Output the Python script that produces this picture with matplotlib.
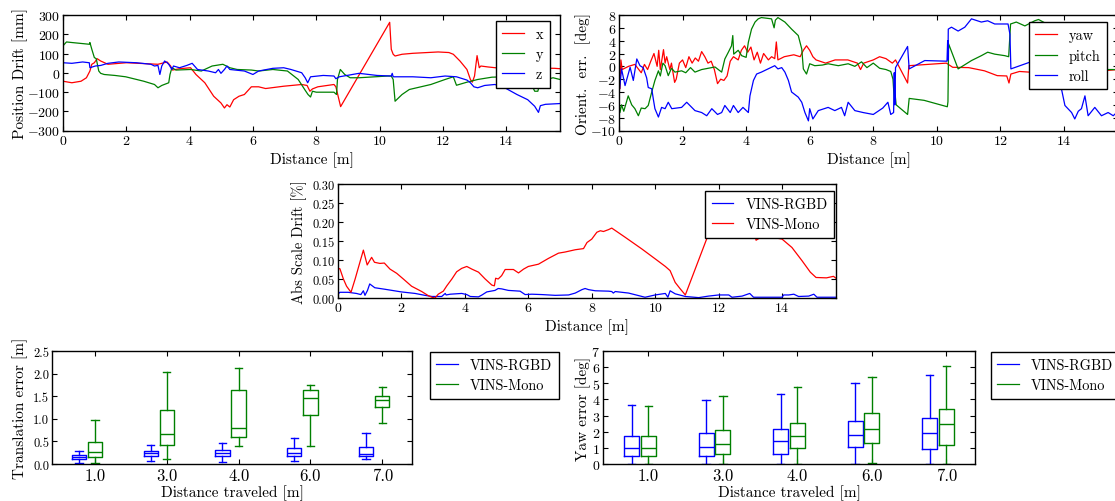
import numpy as np
import matplotlib.pyplot as plt
from matplotlib.ticker import StrMethodFormatter, MultipleLocator

plt.rcParams.update({
    "font.family": "cmr10",
    "mathtext.fontset": "cm",
    "axes.formatter.use_mathtext": True,
    "axes.unicode_minus": False,
    "xtick.direction": "in",
    "ytick.direction": "in",
    "xtick.top": True,
    "ytick.right": True,
    "xtick.major.size": 3.5,
    "ytick.major.size": 3.5,
    "xtick.major.pad": 2.5,
    "ytick.major.pad": 2.0,
    "axes.linewidth": 1.0,
    "legend.fancybox": False,
    "legend.edgecolor": "black",
    "legend.framealpha": 1.0,
    "lines.linewidth": 0.9,
})

RED, GREEN, BLUE = "#ff0000", "#008000", "#0000ff"

# ---- position drift [mm] vs distance [m]
pos_x = [(0, -44), (0.28, -52), (0.57, -44), (0.74, -26), (0.85, 9), (0.91, 44), (0.99, 52),
         (1.08, 73), (1.19, 61), (1.42, 44), (2.0, 52), (3.0, 44), (3.29, 56), (3.4, 35),
         (3.46, 14), (3.68, 21), (4.03, 26), (4.2, -9), (4.48, -52), (4.76, -122), (4.99, -157),
         (5.1, -183), (5.18, -166), (5.27, -178), (5.39, -140), (5.56, -122), (5.73, -113),
         (5.95, -73), (6.18, -73), (6.4, -82), (6.97, -70), (7.54, -61), (7.71, -66), (7.8, -96),
         (7.88, -84), (8.05, -73), (8.56, -61), (8.62, -73), (8.77, -176), (10.32, 262),
         (10.37, 122), (10.43, 96), (10.49, 87), (10.71, 96), (11.05, 101), (11.85, 108),
         (12.19, 105), (12.33, 96), (12.54, 61), (12.76, 17), (12.87, -35), (12.93, -49),
         (13.0, -17), (13.08, 89), (13.15, 26), (13.2, 35), (13.43, 30), (13.66, 26),
         (14.5, 25), (15.53, 23), (15.7, 21)]
pos_y = [(0, 140), (0.11, 160), (0.28, 157), (0.83, 148), (0.85, 157), (0.91, 122), (0.99, 79),
         (1.05, 73), (1.13, 9), (1.19, -3), (1.3, -9), (1.64, -14), (1.98, -21), (2.55, -44),
         (2.89, -61), (3.0, -78), (3.12, -66), (3.34, -52), (3.38, -9), (3.44, 26), (3.57, 14),
         (4.03, 17), (4.37, 9), (4.71, 35), (5.05, 44), (5.27, 26), (5.5, 17), (5.95, 14),
         (6.18, 9), (6.63, 17), (7.09, 9), (7.43, -35), (7.65, -91), (7.74, -113), (7.82, -126),
         (7.88, -96), (8.0, -101), (8.56, -101), (8.64, -113), (8.67, -35), (8.76, 17),
         (8.9, -9), (9.07, -26), (9.35, -26), (10.26, -17), (10.37, -17), (10.43, -35),
         (10.49, -148), (10.71, -113), (10.94, -87), (11.62, -61), (12.07, -35), (12.33, -21),
         (12.43, -65), (12.76, -49), (13.1, -35), (13.55, -23), (14.2, -20), (14.8, -60),
         (14.9, -96), (15.0, -96), (15.08, -44), (15.48, -26), (15.7, -35)]
pos_z = [(0, 52), (0.28, 49), (0.62, 56), (0.83, 52), (0.85, 26), (1.02, 35), (1.19, 38),
         (1.42, 49), (1.76, 56), (2.32, 52), (2.78, 44), (2.89, 35), (3.0, 38), (3.06, -9),
         (3.12, 35), (3.21, 61), (3.29, 52), (3.34, 44), (3.44, 17), (3.49, 35), (3.68, 26),
         (3.91, 38), (4.08, 49), (4.25, 17), (4.59, 9), (4.82, 0), (4.91, 17), (4.99, -3),
         (5.1, 17), (5.18, 35), (5.27, 17), (5.73, 9), (6.0, -9), (6.18, 9), (6.63, 23),
         (6.97, 26), (7.2, 17), (7.54, 0), (7.65, -26), (7.73, -52), (7.82, -21), (8.22, -14),
         (8.56, -17), (8.62, -31), (8.73, -21), (9.35, -3), (9.92, -14), (10.37, -17),
         (10.4, -3), (10.43, -21), (11.05, -21), (11.62, -26), (12.07, -17), (12.43, -21),
         (12.76, -38), (12.87, -52), (12.98, -73), (13.1, -78), (13.32, -66), (13.64, -61),
         (13.9, -73), (14.34, -113), (14.68, -140), (14.9, -174), (15.02, -206), (15.08, -171),
         (15.24, -164), (15.7, -160)]

# ---- orientation error [deg] vs distance [m]
yaw = [(0.0, 1.5), (0.03, -3.5), (0.06, 1.0), (0.1, -0.5), (0.3, 0.0), (0.5, 0.3), (0.7, -1.0),
       (0.8, 0.3), (0.9, -0.5), (1.0, 0.8), (1.1, 2.0), (1.2, 0.0), (1.25, 2.5), (1.3, -0.5),
       (1.4, 2.6), (1.45, 0.5), (1.5, 1.5), (1.6, -0.5), (1.65, 0.5), (1.75, -2.5), (1.8, -2.0),
       (1.9, 0.5), (2.0, 1.0), (2.1, -0.2), (2.2, 1.5), (2.3, 0.5), (2.4, 1.3), (2.5, 0.8),
       (2.6, 2.3), (2.7, 1.5), (2.8, 0.5), (2.9, 0.8), (3.0, -0.5), (3.1, -2.7), (3.2, -2.0),
       (3.3, -2.2), (3.4, -1.5), (3.5, 0.8), (3.6, 1.5), (3.75, 1.0), (3.85, 2.5), (3.95, 3.2),
       (4.05, 2.2), (4.15, 3.0), (4.25, 1.0), (4.35, 2.2), (4.45, 0.5), (4.55, 2.0), (4.7, 1.0),
       (4.8, 1.5), (4.9, 1.2), (4.95, 3.8), (5.0, 1.0), (5.2, 1.5), (5.5, 1.8), (5.7, 1.5),
       (5.8, 2.5), (5.9, 3.2), (6.0, 2.5), (6.1, 1.5), (6.2, 1.0), (6.5, 0.5), (6.8, 1.0),
       (7.2, 1.0), (7.5, 0.5), (7.6, -0.5), (7.7, 0.5), (8.0, 1.0), (8.2, 1.5), (8.4, 1.2),
       (8.6, 0.5), (8.7, 1.0), (9.08, -2.6), (9.12, 0.1), (10.3, 0.5), (10.5, -0.15),
       (11.0, -0.2), (11.5, -0.7), (11.9, -1.45), (12.2, -1.5), (12.27, -2.6), (12.33, -1.2),
       (12.6, -0.8), (12.9, -0.9), (13.5, -1.2), (14.0, -3.0), (14.5, -1.5), (15.0, -0.8),
       (15.7, -0.5)]
pitch = [(0.0, -5.1), (0.03, -7.2), (0.08, -6.0), (0.15, -7.0), (0.29, -4.6), (0.4, -6.0),
         (0.5, -6.6), (0.61, -7.7), (0.7, -6.5), (0.82, -6.6), (0.92, -6.1), (1.03, -4.0),
         (1.13, -2.2), (1.24, -0.7), (1.3, -1.5), (1.38, 0.5), (1.45, 0.1), (1.55, -1.45),
         (1.65, -0.3), (1.76, -0.9), (1.97, -0.7), (2.1, -1.0), (2.25, -0.2), (2.39, -0.9),
         (2.6, -0.5), (2.81, -0.3), (3.02, -0.1), (3.15, -0.6), (3.23, -0.9), (3.33, 1.15),
         (3.44, 2.2), (3.54, 3.2), (3.58, 4.8), (3.61, 1.9), (3.75, 2.5), (3.86, 1.66),
         (4.0, 1.4), (4.07, 3.75), (4.17, 5.8), (4.28, 6.9), (4.38, 7.4), (4.48, 7.6),
         (4.8, 7.4), (4.88, 6.0), (4.92, 7.2), (5.0, 7.6), (5.22, 6.9), (5.43, 5.8),
         (5.64, 4.8), (5.75, 2.7), (5.8, -0.4), (5.9, -1.2), (6.0, 0.4), (6.16, 0.1),
         (6.4, 0.2), (6.58, 0.4), (6.9, 0.1), (7.21, 0.4), (7.42, 0.0), (7.63, 0.7),
         (7.8, -0.2), (8.0, 0.5), (8.2, -0.3), (8.4, -0.5), (8.55, -0.8), (8.62, -2.0),
         (8.67, -5.8), (8.69, -4.5), (8.72, -6.0), (9.08, -7.5), (9.13, -5.0), (9.6, -5.3),
         (10.33, -6.3), (10.35, -5.5), (10.37, 3.5), (10.67, -0.4), (11.09, 0.9), (11.4, 1.66),
         (11.6, 2.2), (11.82, 1.9), (12.14, 1.66), (12.26, 1.5), (12.32, 6.6), (12.5, 6.9),
         (12.77, 6.3), (13.08, 7.1), (13.2, 7.3), (13.5, 6.5), (14.0, 3.0), (14.5, 0.5),
         (15.0, -0.5), (15.7, -0.5)]
roll = [(0.0, 2.2), (0.02, -3.5), (0.08, -0.4), (0.19, -3.0), (0.35, -0.15), (0.45, -2.2),
        (0.56, 1.15), (0.66, 0.1), (0.76, -0.2), (0.87, -1.8), (0.92, -3.3), (1.03, -3.5),
        (1.08, -5.1), (1.13, -6.6), (1.24, -7.9), (1.34, -6.4), (1.45, -6.6), (1.55, -5.6),
        (1.66, -6.6), (1.97, -6.4), (2.13, -5.6), (2.39, -6.9), (2.6, -7.2), (2.76, -7.7),
        (2.92, -6.6), (3.1, -7.5), (3.23, -7.2), (3.33, -6.1), (3.5, -7.2), (3.6, -6.1),
        (3.75, -7.2), (3.9, -6.4), (4.07, -7.2), (4.12, -4.6), (4.23, -2.2), (4.33, -1.2),
        (4.48, -0.9), (4.69, -0.4), (4.9, 0.1), (5.0, -0.4), (5.12, -0.2), (5.22, -0.9),
        (5.33, -2.2), (5.43, -4.0), (5.64, -4.8), (5.75, -5.6), (5.85, -7.2), (5.96, -8.5),
        (6.0, -6.6), (6.1, -8.2), (6.27, -6.9), (6.58, -6.4), (6.79, -6.9), (7.0, -6.4),
        (7.1, -7.7), (7.21, -5.6), (7.42, -6.9), (7.68, -7.2), (8.0, -7.5), (8.3, -6.5),
        (8.46, -5.6), (8.55, -7.5), (8.64, -7.2), (8.66, -1.0), (8.68, -6.0), (8.7, -0.2),
        (9.08, 3.1), (9.13, -0.4), (9.62, 0.9), (10.32, 0.8), (10.34, 4.0), (10.35, 1.0),
        (10.36, 5.8), (10.46, 6.1), (10.67, 5.5), (10.88, 6.1), (11.09, 7.4), (11.4, 6.9),
        (11.6, 7.1), (11.82, 6.6), (12.24, 6.6), (12.3, 5.0), (12.33, -0.4), (12.9, 0.6),
        (13.3, 0.0), (13.8, -1.5), (13.92, -3.5), (14.03, -6.1), (14.24, -7.2), (14.34, -8.2),
        (14.45, -7.0), (14.55, -6.6), (14.66, -4.6), (14.76, -7.7), (14.97, -6.4),
        (15.18, -7.7), (15.39, -7.2), (15.55, -7.7), (15.7, -7.0)]

# ---- absolute scale drift [%]
scale_rgbd = [(0, 0.0105), (0.06, 0.015), (0.32, 0.015), (0.58, 0.012), (0.72, 0.009),
              (0.8, 0.019), (0.85, 0.007), (0.93, 0.02), (1.0, 0.037), (1.08, 0.032),
              (1.16, 0.027), (1.48, 0.023), (2.0, 0.016), (2.43, 0.012), (2.74, 0.007),
              (2.96, 0.004), (3.27, 0.004), (3.38, 0.012), (3.41, 0.008), (3.54, 0.01),
              (3.9, 0.012), (4.06, 0.009), (4.17, 0.004), (4.43, 0.003), (4.54, 0.008),
              (4.69, 0.016), (4.95, 0.02), (5.05, 0.025), (5.16, 0.024), (5.37, 0.02),
              (5.74, 0.018), (5.9, 0.009), (6.11, 0.01), (6.43, 0.009), (6.85, 0.007),
              (7.27, 0.008), (7.48, 0.013), (7.69, 0.022), (7.79, 0.025), (7.9, 0.022),
              (8.11, 0.019), (8.53, 0.018), (8.63, 0.017), (8.68, 0.013), (8.74, 0.017),
              (9.16, 0.013), (9.68, 0.002), (10.0, 0.008), (10.32, 0.012), (10.4, 0.002),
              (10.47, 0.019), (10.63, 0.011), (10.95, 0.004), (11.37, 0.001), (11.68, 0.005),
              (12.0, 0.008), (12.32, 0.008), (12.42, 0.002), (12.74, 0.005), (12.98, 0.012),
              (13.1, 0.002), (14.0, 0.002), (14.05, 0.008), (14.21, 0.008), (14.37, 0.01),
              (14.52, 0.004), (14.84, 0.005), (15.0, 0.01), (15.1, 0.002), (15.7, 0.002)]
scale_mono = [(0, 0.078), (0.06, 0.077), (0.17, 0.05), (0.27, 0.031), (0.41, 0.015),
              (0.54, 0.05), (0.69, 0.094), (0.8, 0.126), (0.92, 0.087), (1.06, 0.107),
              (1.15, 0.094), (1.32, 0.091), (1.46, 0.092), (1.64, 0.076), (1.85, 0.065),
              (2.06, 0.05), (2.32, 0.031), (2.64, 0.017), (2.85, 0.006), (2.96, 0.002),
              (3.06, 0.0), (3.16, 0.01), (3.32, 0.018), (3.43, 0.032), (3.59, 0.05),
              (3.74, 0.069), (3.9, 0.078), (4.06, 0.083), (4.22, 0.076), (4.43, 0.068),
              (4.64, 0.05), (4.85, 0.034), (4.93, 0.032), (4.97, 0.052), (5.05, 0.05),
              (5.16, 0.059), (5.27, 0.075), (5.53, 0.075), (5.69, 0.066), (5.85, 0.076),
              (6.0, 0.083), (6.16, 0.086), (6.32, 0.089), (6.63, 0.104), (6.95, 0.118),
              (7.16, 0.121), (7.48, 0.127), (7.74, 0.13), (7.85, 0.146), (8.0, 0.155),
              (8.16, 0.173), (8.27, 0.177), (8.37, 0.175), (8.53, 0.18), (8.63, 0.184),
              (9.05, 0.16), (9.58, 0.129), (10.0, 0.103), (10.32, 0.083), (10.47, 0.072),
              (10.63, 0.041), (10.79, 0.024), (10.95, 0.008), (11.68, 0.168), (11.85, 0.19),
              (12.3, 0.195), (12.8, 0.19), (13.15, 0.164), (13.18, 0.152), (13.37, 0.162),
              (13.68, 0.16), (14.0, 0.155), (14.31, 0.133), (14.63, 0.098), (14.89, 0.068),
              (15.07, 0.054), (15.4, 0.053), (15.62, 0.057), (15.7, 0.052)]

# ---- relative error boxplots (whislo, q1, median, q3, whishi)
dist_labels = ["1.0", "3.0", "4.0", "6.0", "7.0"]
rgbd_trans = {"lo": [0.03, 0.07, 0.05, 0.06, 0.10], "q1": [0.11, 0.18, 0.175, 0.18, 0.17],
              "med": [0.146, 0.233, 0.25, 0.24, 0.23], "q3": [0.20, 0.29, 0.31, 0.36, 0.38],
              "hi": [0.29, 0.42, 0.47, 0.58, 0.68]}
mono_trans = {"lo": [0.02, 0.11, 0.39, 0.40, 0.91], "q1": [0.16, 0.42, 0.60, 1.09, 1.26],
              "med": [0.255, 0.67, 0.80, 1.46, 1.41], "q3": [0.49, 1.20, 1.63, 1.63, 1.50],
              "hi": [0.97, 2.04, 2.13, 1.75, 1.71]}
rgbd_yaw = {"lo": [0, 0, 0, 0, 0], "q1": [0.47, 0.47, 0.61, 1.06, 0.94],
            "med": [0.98, 1.06, 1.43, 1.82, 1.90], "q3": [1.73, 1.90, 2.14, 2.67, 2.88],
            "hi": [3.67, 3.98, 4.33, 5.04, 5.51]}
mono_yaw = {"lo": [0, 0, 0, 0.06, 0], "q1": [0.47, 0.61, 0.98, 1.30, 1.18],
            "med": [0.98, 1.22, 1.73, 2.14, 2.47], "q3": [1.73, 2.08, 2.51, 3.16, 3.41],
            "hi": [3.57, 4.22, 4.76, 5.39, 6.04]}

W, H = 1115, 502
fig = plt.figure(figsize=(W / 100, H / 100), dpi=100, facecolor="white")


def add_ax(l, t, r, b):
    return fig.add_axes([l / W, 1 - b / H, (r - l) / W, (b - t) / H])


def place_legend(ax, loc, x, y):
    return ax.legend(loc=loc, bbox_to_anchor=(x / W, 1 - y / H),
                     bbox_transform=fig.transFigure, borderaxespad=0,
                     fontsize=10.3, handlelength=1.5, handletextpad=0.85,
                     borderpad=0.45, labelspacing=0.45)


def ylabel_at(ax, text, x, size=11):
    ax.set_ylabel(text, fontsize=size)
    bb = ax.get_position()
    ax.yaxis.set_label_coords(x / W, bb.y0 + bb.height / 2, transform=fig.transFigure)


def line(ax, pts, color, label):
    d, v = zip(*pts)
    ax.plot(d, v, color=color, label=label)


# top left
ax1 = add_ax(63, 16, 560, 131.5)
line(ax1, pos_x, RED, "x")
line(ax1, pos_y, GREEN, "y")
line(ax1, pos_z, BLUE, "z")
ax1.set_xlim(0, 15.7)
ax1.set_ylim(-300, 300)
ax1.yaxis.set_major_locator(MultipleLocator(100))
ax1.xaxis.set_major_locator(MultipleLocator(2))
ax1.tick_params(labelsize=10)
ax1.set_xlabel("Distance [m]", fontsize=11, labelpad=3)
ylabel_at(ax1, "Position Drift [mm]", 28)
place_legend(ax1, "upper right", 550, 22)

# top right
ax2 = add_ax(619, 16, 1118, 131.5)
line(ax2, yaw, RED, "yaw")
line(ax2, pitch, GREEN, "pitch")
line(ax2, roll, BLUE, "roll")
ax2.set_xlim(0, 15.7)
ax2.set_ylim(-10, 8)
ax2.yaxis.set_major_locator(MultipleLocator(2))
ax2.xaxis.set_major_locator(MultipleLocator(2))
ax2.tick_params(labelsize=10)
ax2.set_xlabel("Distance [m]", fontsize=11, labelpad=3)
ylabel_at(ax2, "Orient.  err.  [deg]", 591)
place_legend(ax2, "upper left", 1029, 23)

# middle
ax3 = add_ax(338, 185, 836, 299)
line(ax3, scale_rgbd, BLUE, "VINS-RGBD")
line(ax3, scale_mono, RED, "VINS-Mono")
ax3.set_xlim(0, 15.7)
ax3.set_ylim(0, 0.30)
ax3.yaxis.set_major_locator(MultipleLocator(0.05))
ax3.yaxis.set_major_formatter(StrMethodFormatter("{x:.2f}"))
ax3.xaxis.set_major_locator(MultipleLocator(2))
ax3.tick_params(axis="y", labelsize=9)
ax3.tick_params(axis="x", labelsize=10)
ax3.set_xlabel("Distance [m]", fontsize=11, labelpad=3)
ylabel_at(ax3, "Abs Scale Drift [%]", 307, size=10.5)
place_legend(ax3, "upper right", 834, 192)


def boxes(ax, st, pos, color):
    stats = [{"whislo": st["lo"][i], "q1": st["q1"][i], "med": st["med"][i],
              "q3": st["q3"][i], "whishi": st["hi"][i], "fliers": []}
             for i in range(len(pos))]
    lp = dict(color=color, linewidth=1.0)
    ax.bxp(stats, positions=pos, widths=0.2, showfliers=False, manage_ticks=False,
           boxprops=lp, whiskerprops=lp, capprops=lp, medianprops=lp)


grp = np.arange(1, len(dist_labels) + 1)

# bottom left
ax4 = add_ax(52, 352, 412, 465)
boxes(ax4, rgbd_trans, grp - 0.225, BLUE)
boxes(ax4, mono_trans, grp, GREEN)
ax4.plot([], [], color=BLUE, label="VINS-RGBD")
ax4.plot([], [], color=GREEN, label="VINS-Mono")
ax4.set_xlim(0.4, 5.415)
ax4.set_ylim(0, 2.5)
ax4.set_xticks(grp)
ax4.set_xticklabels(dist_labels)
ax4.yaxis.set_major_locator(MultipleLocator(0.5))
ax4.yaxis.set_major_formatter(StrMethodFormatter("{x:.1f}"))
ax4.tick_params(axis="x", labelsize=12)
ax4.tick_params(axis="y", labelsize=9)
ax4.set_xlabel("Distance traveled [m]", fontsize=11, labelpad=1)
ylabel_at(ax4, "Translation error [m]", 28)
place_legend(ax4, "upper left", 430, 353)

# bottom right
ax5 = add_ax(603, 352, 975, 465)
boxes(ax5, rgbd_yaw, grp - 0.225, BLUE)
boxes(ax5, mono_yaw, grp, GREEN)
ax5.plot([], [], color=BLUE, label="VINS-RGBD")
ax5.plot([], [], color=GREEN, label="VINS-Mono")
ax5.set_xlim(0.39, 5.385)
ax5.set_ylim(0, 7)
ax5.set_xticks(grp)
ax5.set_xticklabels(dist_labels)
ax5.yaxis.set_major_locator(MultipleLocator(1))
ax5.tick_params(axis="x", labelsize=12)
ax5.tick_params(axis="y", labelsize=10)
ax5.set_xlabel("Distance traveled [m]", fontsize=11, labelpad=1)
ylabel_at(ax5, "Yaw error [deg]", 591)
place_legend(ax5, "upper left", 991, 353)

fig.savefig("out.png", dpi=100, facecolor="white")
